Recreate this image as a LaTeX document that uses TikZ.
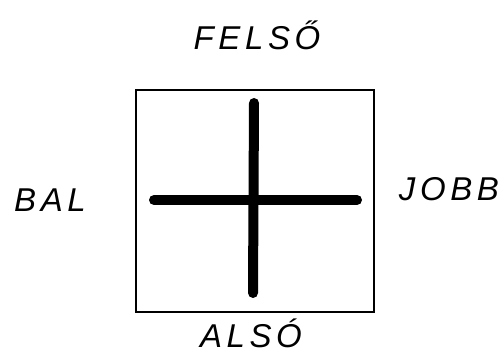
\documentclass[tikz,border=0pt]{standalone}
\usepackage{fontspec}
\setmainfont{Liberation Sans}[LetterSpace=14]
\begin{document}
\begin{tikzpicture}[x=1pt,y=-1pt,
  lbl/.style={font=\fontsize{33}{36}\selectfont\itshape, inner sep=0pt, text depth=0pt, anchor=base},
  frame/.style={draw=black, line width=2.4pt},
  bar/.style={line width=10pt, line cap=round, black}]
\useasboundingbox (0,0) rectangle (501,358);
\node[frame, minimum width=238pt, minimum height=222pt, inner sep=0pt, anchor=north west] (box) at (135,89) {};
\coordinate (vt) at (254,103);
\coordinate (vb) at (253,293);
\coordinate (hl) at (154,200);
\coordinate (hr) at (357,200);
\draw[bar] (vt) -- (vb);
\draw[bar] (hl) -- (hr);
\node[lbl] (top) at (257,50) {FELSŐ};
\node[lbl] (left) at (50,212) {BAL};
\node[lbl] (right) at (449,201) {JOBB};
\node[lbl] (bottom) at (251,348) {ALSÓ};
\end{tikzpicture}
\end{document}
